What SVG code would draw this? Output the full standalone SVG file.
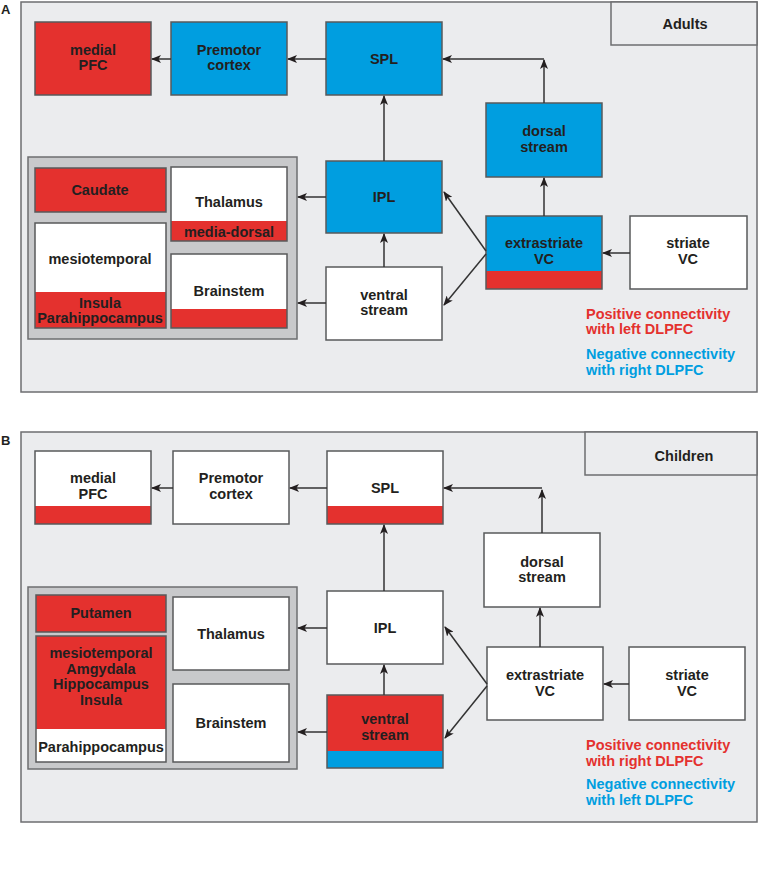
<svg xmlns="http://www.w3.org/2000/svg" width="759" height="886" viewBox="0 0 759 886">
<style>
text{font-family:"Liberation Sans",Arial,Helvetica,sans-serif;font-weight:bold;font-size:14.5px;fill:#231f20;text-anchor:middle}
.panel{fill:#ebecee;stroke:#6d6e70;stroke-width:1.5}
.grp{fill:#c8c9cb;stroke:#6d6e70;stroke-width:1.5}
.w{fill:#ffffff}
.r{fill:#e4312e}
.b{fill:#009ee0}
.ol{fill:none;stroke:#58595b;stroke-width:1.5}
.lbl{font-size:13px;text-anchor:start}
.leg{text-anchor:start}
.lr{fill:#e4312e}
.lb{fill:#009ee0}
.c line{stroke:#333;stroke-width:1.5;marker-end:url(#ah)}
</style>
<defs>
<marker id="ah" viewBox="0 0 10 8" refX="9" refY="4" markerWidth="10" markerHeight="8" markerUnits="userSpaceOnUse" orient="auto">
<path d="M0,0 L10,4 L0,8 L2.5,4 z" fill="#231f20"/>
</marker>
</defs>

<!-- Panel A -->
<g id="panelA">
<text class="lbl" x="1" y="14">A</text>
<rect class="panel" x="21" y="2" width="736" height="390"/>
<rect class="panel" x="611" y="2" width="146" height="43"/>
<text x="685" y="29">Adults</text>
</g>
<g id="A_group"><rect class="grp" x="28" y="157" width="269" height="182"/></g>
<g id="A_medialPFC"><rect class="r" x="35" y="22" width="116" height="73"/><rect class="ol" x="35" y="22" width="116" height="73"/><text x="93" y="55">medial</text><text x="93" y="70">PFC</text></g>
<g id="A_premotor"><rect class="b" x="171" y="22" width="116" height="73"/><rect class="ol" x="171" y="22" width="116" height="73"/><text x="229" y="55">Premotor</text><text x="229" y="70">cortex</text></g>
<g id="A_SPL"><rect class="b" x="326" y="22" width="116" height="73"/><rect class="ol" x="326" y="22" width="116" height="73"/><text x="384" y="64">SPL</text></g>
<g id="A_dorsal"><rect class="b" x="486" y="103" width="116" height="74"/><rect class="ol" x="486" y="103" width="116" height="74"/><text x="544" y="136">dorsal</text><text x="544" y="152">stream</text></g>
<g id="A_IPL"><rect class="b" x="326" y="161" width="116" height="72"/><rect class="ol" x="326" y="161" width="116" height="72"/><text x="384" y="202">IPL</text></g>
<g id="A_extrastriate"><rect class="b" x="486" y="216" width="116" height="73"/><rect class="r" x="486" y="271" width="116" height="18"/><rect class="ol" x="486" y="216" width="116" height="73"/><text x="544" y="248">extrastriate</text><text x="544" y="264">VC</text></g>
<g id="A_striate"><rect class="w" x="630" y="216" width="117" height="73"/><rect class="ol" x="630" y="216" width="117" height="73"/><text x="688" y="248">striate</text><text x="688" y="264">VC</text></g>
<g id="A_ventral"><rect class="w" x="326" y="267" width="116" height="73"/><rect class="ol" x="326" y="267" width="116" height="73"/><text x="384" y="300">ventral</text><text x="384" y="315">stream</text></g>
<g id="A_caudate"><rect class="r" x="35" y="168" width="131" height="44"/><rect class="ol" x="35" y="168" width="131" height="44"/><text x="100" y="195">Caudate</text></g>
<g id="A_thalamus"><rect class="w" x="171" y="167" width="116" height="74"/><rect class="r" x="171" y="221" width="116" height="20"/><rect class="ol" x="171" y="167" width="116" height="74"/><text x="229" y="207">Thalamus</text><text x="229" y="237">media-dorsal</text></g>
<g id="A_mesiotemporal"><rect class="w" x="35" y="223" width="131" height="105"/><rect class="r" x="35" y="292" width="131" height="36"/><rect class="ol" x="35" y="223" width="131" height="105"/><text x="100" y="264">mesiotemporal</text><text x="100" y="308">Insula</text><text x="100" y="323">Parahippocampus</text></g>
<g id="A_brainstem"><rect class="w" x="171" y="254" width="116" height="74"/><rect class="r" x="171" y="309" width="116" height="19"/><rect class="ol" x="171" y="254" width="116" height="74"/><text x="229" y="296">Brainstem</text></g>
<g id="A_legend"><text class="leg lr" x="586" y="319">Positive connectivity</text><text class="leg lr" x="586" y="334">with left DLPFC</text><text class="leg lb" x="586" y="359">Negative connectivity</text><text class="leg lb" x="586" y="375">with right DLPFC</text></g>
<g id="A_connectors" class="c">
<line x1="326" y1="59" x2="288" y2="59"/>
<line x1="171" y1="59" x2="152" y2="59"/>
<line x1="544" y1="103" x2="544" y2="60"/>
<line x1="544" y1="59" x2="443" y2="59"/>
<line x1="544" y1="216" x2="544" y2="178"/>
<line x1="630" y1="253" x2="603" y2="253"/>
<line x1="486" y1="251" x2="444" y2="192"/>
<line x1="486" y1="254" x2="444" y2="305"/>
<line x1="384" y1="267" x2="384" y2="234"/>
<line x1="384" y1="161" x2="384" y2="96"/>
<line x1="326" y1="197" x2="298" y2="197"/>
<line x1="326" y1="303" x2="298" y2="303"/>
</g>

<!-- Panel B -->
<g id="panelB">
<text class="lbl" x="1" y="445">B</text>
<rect class="panel" x="21" y="432" width="736" height="390"/>
<rect class="panel" x="585" y="432" width="172" height="43"/>
<text x="684" y="461">Children</text>
</g>
<g id="B_group"><rect class="grp" x="28" y="587" width="269" height="182"/></g>
<g id="B_medialPFC"><rect class="w" x="35" y="451" width="116" height="73"/><rect class="r" x="35" y="506" width="116" height="18"/><rect class="ol" x="35" y="451" width="116" height="73"/><text x="93" y="483">medial</text><text x="93" y="499">PFC</text></g>
<g id="B_premotor"><rect class="w" x="173" y="451" width="116" height="73"/><rect class="ol" x="173" y="451" width="116" height="73"/><text x="231" y="483">Premotor</text><text x="231" y="499">cortex</text></g>
<g id="B_SPL"><rect class="w" x="327" y="451" width="116" height="73"/><rect class="r" x="327" y="506" width="116" height="18"/><rect class="ol" x="327" y="451" width="116" height="73"/><text x="385" y="493">SPL</text></g>
<g id="B_dorsal"><rect class="w" x="484" y="533" width="116" height="74"/><rect class="ol" x="484" y="533" width="116" height="74"/><text x="542" y="567">dorsal</text><text x="542" y="582">stream</text></g>
<g id="B_IPL"><rect class="w" x="327" y="591" width="116" height="73"/><rect class="ol" x="327" y="591" width="116" height="73"/><text x="385" y="633">IPL</text></g>
<g id="B_extrastriate"><rect class="w" x="487" y="647" width="116" height="73"/><rect class="ol" x="487" y="647" width="116" height="73"/><text x="545" y="680">extrastriate</text><text x="545" y="696">VC</text></g>
<g id="B_striate"><rect class="w" x="629" y="647" width="116" height="73"/><rect class="ol" x="629" y="647" width="116" height="73"/><text x="687" y="680">striate</text><text x="687" y="696">VC</text></g>
<g id="B_ventral"><rect class="r" x="327" y="695" width="116" height="73"/><rect class="b" x="327" y="751" width="116" height="17"/><rect class="ol" x="327" y="695" width="116" height="73"/><text x="385" y="724">ventral</text><text x="385" y="740">stream</text></g>
<g id="B_putamen"><rect class="r" x="36" y="595" width="130" height="37"/><rect class="ol" x="36" y="595" width="130" height="37"/><text x="101" y="618">Putamen</text></g>
<g id="B_thalamus"><rect class="w" x="173" y="597" width="116" height="73"/><rect class="ol" x="173" y="597" width="116" height="73"/><text x="231" y="639">Thalamus</text></g>
<g id="B_mesiotemporal"><rect class="r" x="36" y="636" width="130" height="126"/><rect class="w" x="36" y="729" width="130" height="33"/><rect class="ol" x="36" y="636" width="130" height="126"/><text x="101" y="658">mesiotemporal</text><text x="101" y="674">Amgydala</text><text x="101" y="689">Hippocampus</text><text x="101" y="705">Insula</text><text x="101" y="752">Parahippocampus</text></g>
<g id="B_brainstem"><rect class="w" x="173" y="684" width="116" height="78"/><rect class="ol" x="173" y="684" width="116" height="78"/><text x="231" y="728">Brainstem</text></g>
<g id="B_legend"><text class="leg lr" x="586" y="750">Positive connectivity</text><text class="leg lr" x="586" y="766">with right DLPFC</text><text class="leg lb" x="586" y="789">Negative connectivity</text><text class="leg lb" x="586" y="805">with left DLPFC</text></g>
<g id="B_connectors" class="c">
<line x1="327" y1="488" x2="290" y2="488"/>
<line x1="173" y1="488" x2="152" y2="488"/>
<line x1="542" y1="533" x2="542" y2="490"/>
<line x1="542" y1="488" x2="444" y2="488"/>
<line x1="540" y1="647" x2="540" y2="608"/>
<line x1="629" y1="684" x2="604" y2="684"/>
<line x1="487" y1="684" x2="445" y2="627"/>
<line x1="487" y1="686" x2="445" y2="738"/>
<line x1="384" y1="695" x2="384" y2="665"/>
<line x1="384" y1="591" x2="384" y2="525"/>
<line x1="327" y1="628" x2="298" y2="628"/>
<line x1="327" y1="732" x2="298" y2="732"/>
</g>
</svg>
